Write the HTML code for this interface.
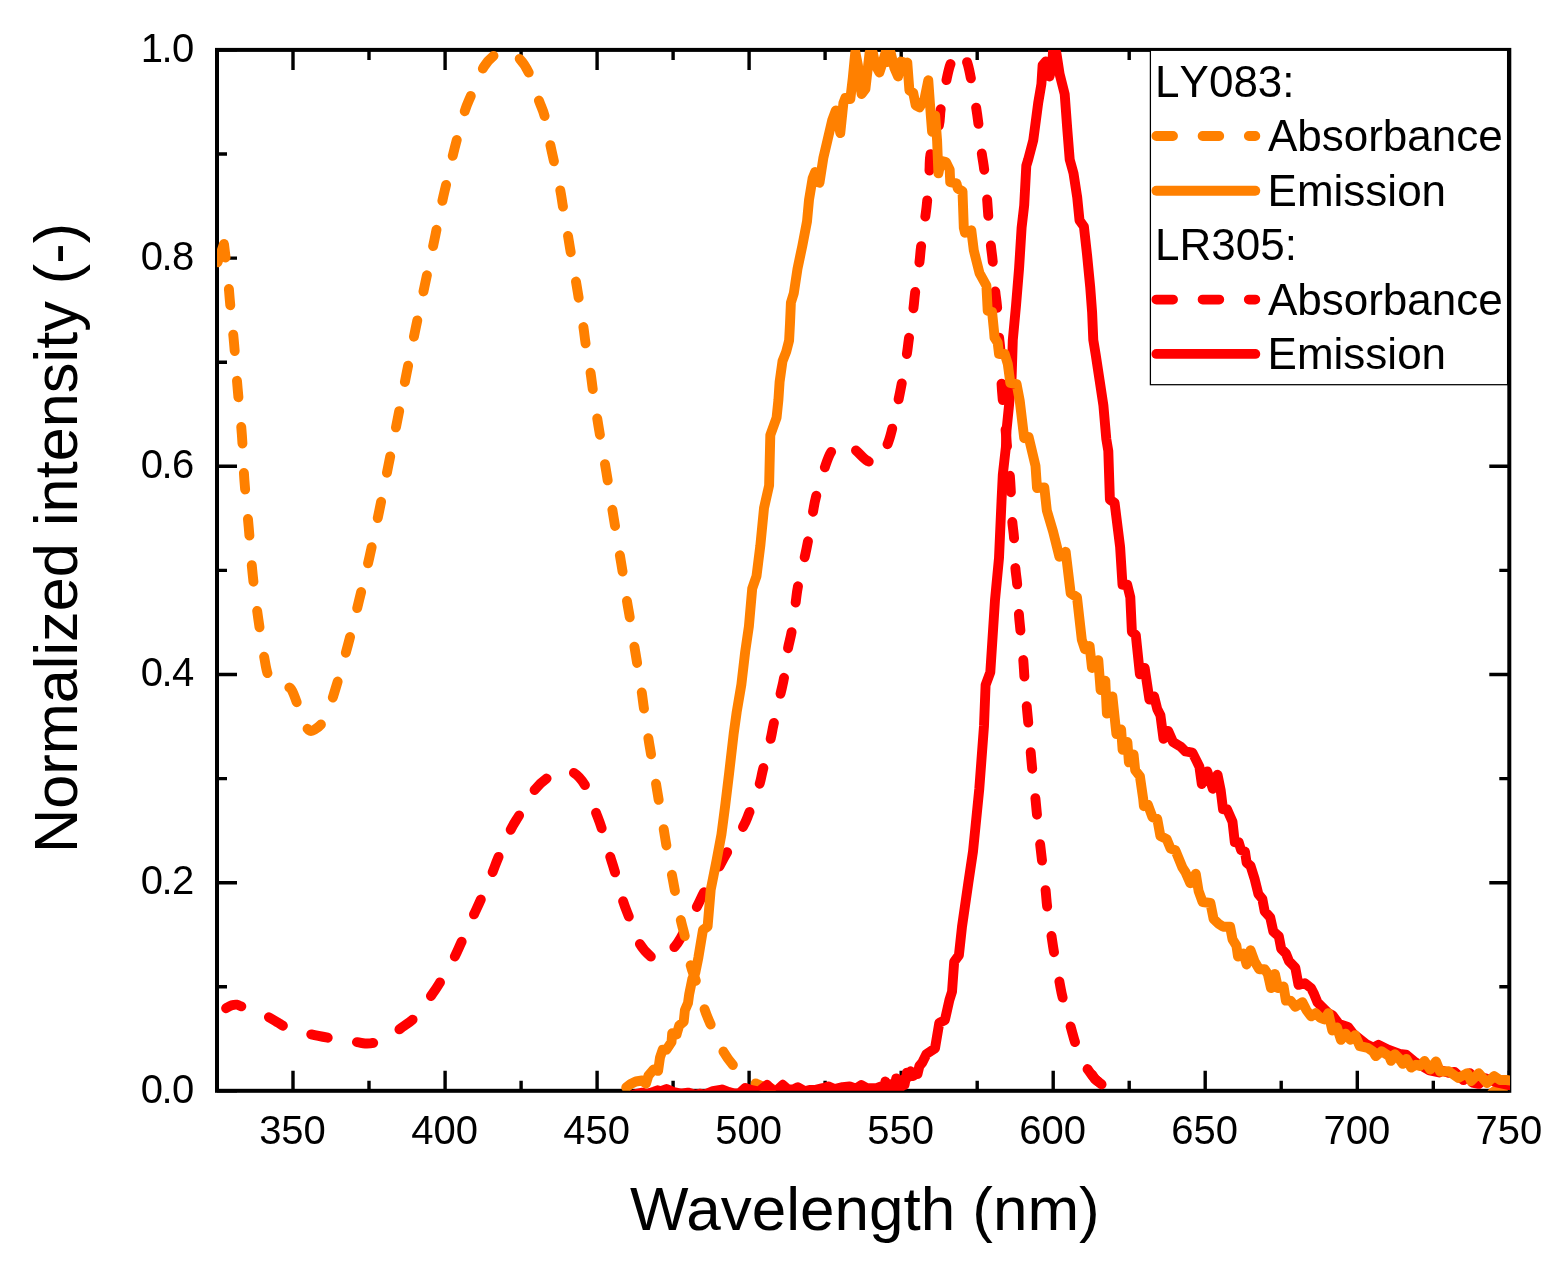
<!DOCTYPE html><html><head><meta charset="utf-8"><title>Spectra</title>
<style>html,body{margin:0;padding:0;background:#fff;}svg{display:block;}</style></head><body>
<svg width="1566" height="1272" viewBox="0 0 1566 1272">
<rect width="1566" height="1272" fill="#fff"/>
<defs><clipPath id="pa"><rect x="217" y="49.9" width="1293" height="1040.9"/></clipPath></defs>
<path d="M293,1090.8 V1070.8 M293,49.9 V69.9 M445.1,1090.8 V1070.8 M445.1,49.9 V69.9 M597.1,1090.8 V1070.8 M597.1,49.9 V69.9 M749.1,1090.8 V1070.8 M749.1,49.9 V69.9 M901.2,1090.8 V1070.8 M901.2,49.9 V69.9 M1053.2,1090.8 V1070.8 M1053.2,49.9 V69.9 M1205.2,1090.8 V1070.8 M1205.2,49.9 V69.9 M1357.3,1090.8 V1070.8 M1357.3,49.9 V69.9 M1509.3,1090.8 V1070.8 M1509.3,49.9 V69.9 M369,1090.8 V1080.8 M369,49.9 V59.9 M521.1,1090.8 V1080.8 M521.1,49.9 V59.9 M673.1,1090.8 V1080.8 M673.1,49.9 V59.9 M825.1,1090.8 V1080.8 M825.1,49.9 V59.9 M977.2,1090.8 V1080.8 M977.2,49.9 V59.9 M1129.2,1090.8 V1080.8 M1129.2,49.9 V59.9 M1281.2,1090.8 V1080.8 M1281.2,49.9 V59.9 M1433.3,1090.8 V1080.8 M1433.3,49.9 V59.9 M217,1090.8 H237 M1509.3,1090.8 H1489.3 M217,882.7 H237 M1509.3,882.7 H1489.3 M217,674.5 H237 M1509.3,674.5 H1489.3 M217,466.3 H237 M1509.3,466.3 H1489.3 M217,258.1 H237 M1509.3,258.1 H1489.3 M217,49.9 H237 M1509.3,49.9 H1489.3 M217,986.8 H227 M1509.3,986.8 H1499.3 M217,778.6 H227 M1509.3,778.6 H1499.3 M217,570.4 H227 M1509.3,570.4 H1499.3 M217,362.2 H227 M1509.3,362.2 H1499.3 M217,154 H227 M1509.3,154 H1499.3" stroke="#000" stroke-width="3.4" fill="none"/>
<rect x="217" y="49.9" width="1292.3" height="1040.9" stroke="#000" stroke-width="4.0" fill="none" stroke-linejoin="miter"/>
<g clip-path="url(#pa)" fill="none" stroke-width="9.9" stroke-linecap="round" stroke-linejoin="round">
<path d="M226.1,1008.2C227.05,1007.72 229.98,1005.88 231.8,1005.3C233.62,1004.72 235.42,1004.52 237,1004.7C238.58,1004.88 238.3,1005.35 241.3,1006.4C244.3,1007.45 250.3,1009.13 255,1011C259.7,1012.87 265.7,1015.68 269.5,1017.6C273.3,1019.52 275.27,1021 277.8,1022.5C280.33,1024 281.5,1025.18 284.7,1026.6C287.9,1028.02 292.72,1029.73 297,1031C301.28,1032.27 305.12,1033.05 310.4,1034.2C315.68,1035.35 323.27,1036.85 328.7,1037.9C334.13,1038.95 338.28,1039.8 343,1040.5C347.72,1041.2 353.33,1041.6 357,1042.1C360.67,1042.6 362.17,1043.4 365,1043.5C367.83,1043.6 370,1043.78 374,1042.7C378,1041.62 384.28,1039.6 389,1037C393.72,1034.4 397.97,1030.4 402.3,1027.1C406.63,1023.8 410.17,1022.47 415,1017.2C419.83,1011.93 427.17,1001.25 431.3,995.5C435.43,989.75 436.02,988.95 439.8,982.7C443.58,976.45 450.42,964.72 454,958C457.58,951.28 458.05,949.48 461.3,942.4C464.55,935.32 470.28,922.57 473.5,915.5C476.72,908.43 477.48,907.07 480.6,900C483.72,892.93 489.25,880.18 492.2,873.1C495.15,866.02 495.23,864.7 498.3,857.5C501.37,850.3 507.08,836.98 510.6,829.9C514.12,822.82 515.33,821.73 519.4,815C523.47,808.27 530.05,795.87 535,789.5C539.95,783.13 544.93,779.72 549.1,776.8C553.27,773.88 555.98,772.72 560,772C564.02,771.28 568.88,770.05 573.2,772.5C577.52,774.95 582.13,780.1 585.9,786.7C589.67,793.3 593.2,805.27 595.8,812.1C598.4,818.93 599.13,820.38 601.5,827.7C603.87,835.02 607.78,848.7 610,856C612.22,863.3 612.68,864.2 614.8,871.5C616.92,878.8 620.35,892.25 622.7,899.8C625.05,907.35 626.07,909.48 628.9,916.8C631.73,924.12 635.78,936.87 639.7,943.7C643.62,950.53 648.85,955.17 652.4,957.8C655.95,960.43 657.47,961.15 661,959.5C664.53,957.85 670.32,951.48 673.6,947.9C676.88,944.32 676.82,944.85 680.7,938C684.58,931.15 692.93,914.55 696.9,906.8C700.87,899.05 700.67,898.4 704.5,891.5C708.33,884.6 716.07,872.05 719.9,865.4C723.73,858.75 723.67,857.98 727.5,851.6C731.33,845.22 739.32,833.48 742.9,827.1C746.48,820.72 746.3,820.22 749,813.3C751.7,806.38 756.8,792.77 759.1,785.6C761.4,778.43 760.9,777.97 762.8,770.3C764.7,762.63 768.7,747.27 770.5,739.6C772.3,731.93 771.95,731.85 773.6,724.3C775.25,716.75 778.63,702.23 780.4,694.3C782.17,686.37 782.95,684.23 784.2,676.7C785.45,669.17 786.65,656.65 787.9,649.1C789.15,641.55 790.43,638.95 791.7,631.4C792.97,623.85 794.45,611.33 795.5,603.8C796.55,596.27 796.53,593.7 798,586.2C799.47,578.7 802.68,566.05 804.3,558.8C805.92,551.55 806.28,550.33 807.7,542.7C809.12,535.07 811.38,520.78 812.8,513C814.22,505.22 814.22,503.55 816.2,496C818.18,488.45 822.07,475.25 824.7,467.7C827.33,460.15 828.95,454.65 832,450.7C835.05,446.75 839.27,444.23 843,444C846.73,443.77 850.38,446.53 854.4,449.3C858.42,452.07 863.33,458.48 867.1,460.6C870.87,462.72 873.7,464.5 877,462C880.3,459.5 884.4,451.02 886.9,445.6C889.4,440.18 890.12,436.9 892,429.5C893.88,422.1 896.6,408.75 898.2,401.2C899.8,393.65 900.17,392 901.6,384.2C903.03,376.4 905.58,361.97 906.8,354.4C908.02,346.83 907.8,346.47 908.9,338.8C910,331.13 912.37,316.07 913.4,308.4C914.43,300.73 914.1,300.42 915.1,292.8C916.1,285.18 918.42,270.32 919.4,262.7C920.38,255.08 920.02,254.77 921,247.1C921.98,239.43 924.28,224.28 925.3,216.7C926.32,209.12 926.42,209.15 927.1,201.6C927.78,194.05 928.8,179.47 929.4,171.4C930,163.33 929.12,160.85 930.7,153.2C932.28,145.55 937.22,132.93 938.9,125.5C940.58,118.07 939.55,116.13 940.8,108.6C942.05,101.07 944.73,87.85 946.4,80.3C948.07,72.75 948.78,68.27 950.8,63.3C952.82,58.33 955.88,50.92 958.5,50.5" stroke="#ff0000" stroke-dasharray="16.6 29.63" stroke-dashoffset="0.31"/>
<path d="M958.5,50.5C961.12,50.08 964.43,56.15 966.5,60.8C968.57,65.45 969.32,70.75 970.9,78.4C972.48,86.05 974.73,99.05 976,106.7C977.27,114.35 977.57,116.75 978.5,124.3C979.43,131.85 980.65,144.45 981.6,152C982.55,159.55 983.3,161.9 984.2,169.6C985.1,177.3 986.32,190.5 987,198.2C987.68,205.9 987.67,208.03 988.3,215.8C988.93,223.57 990.07,237.25 990.8,244.8C991.53,252.35 991.97,253.45 992.7,261.1C993.43,268.75 994.47,283.05 995.2,290.7C995.93,298.35 996.47,299.45 997.1,307C997.73,314.55 998.43,328.5 999,336C999.57,343.5 1000.08,344.2 1000.5,352C1000.92,359.8 1001.12,374.73 1001.5,382.8C1001.88,390.87 1002.13,392.7 1002.8,400.4C1003.47,408.1 1004.8,421.4 1005.5,429C1006.2,436.6 1006.3,438.53 1007,446C1007.7,453.47 1009.05,466.03 1009.7,473.8C1010.35,481.57 1010.48,484.85 1010.9,492.6C1011.32,500.35 1011.67,512.63 1012.2,520.3C1012.73,527.97 1013.58,530.83 1014.1,538.6C1014.62,546.37 1014.78,559.25 1015.3,566.9C1015.82,574.55 1016.6,576.68 1017.2,584.5C1017.8,592.32 1018.37,606.17 1018.9,613.8C1019.43,621.43 1019.67,622.57 1020.4,630.3C1021.13,638.03 1022.63,652.47 1023.3,660.2C1023.97,667.93 1023.83,669.1 1024.4,676.7C1024.97,684.3 1026.05,698.07 1026.7,705.8C1027.35,713.53 1027.63,715.37 1028.3,723.1C1028.97,730.83 1030.05,744.6 1030.7,752.2C1031.35,759.8 1031.42,761.02 1032.2,768.7C1032.98,776.38 1034.6,790.62 1035.4,798.3C1036.2,805.98 1036.22,807.2 1037,814.8C1037.78,822.4 1039.25,836.17 1040.1,843.9C1040.95,851.63 1041.18,853.47 1042.1,861.2C1043.02,868.93 1044.75,882.7 1045.6,890.3C1046.45,897.9 1046.22,899.18 1047.2,906.8C1048.18,914.42 1050.35,928.35 1051.5,936C1052.65,943.65 1052.77,945.02 1054.1,952.7C1055.43,960.38 1058.05,974.52 1059.5,982.1C1060.95,989.68 1060.9,990.62 1062.8,998.2C1064.7,1005.78 1068.78,1020.03 1070.9,1027.6C1073.02,1035.17 1073.65,1038.2 1075.5,1043.6C1077.35,1049 1079.77,1055.43 1082,1060C1084.23,1064.57 1086.73,1067.83 1088.9,1071C1091.07,1074.17 1092.88,1076.77 1095,1079C1097.12,1081.23 1100.5,1083.5 1101.6,1084.4" stroke="#ff0000" stroke-dasharray="16.6 29.63" stroke-dashoffset="31.23"/>
<path d="M1092,1074.5 L1095,1079 L1101.6,1084.4" stroke="#ff0000"/>
<path d="M217.6,262.2 L224,244 L225.6,257.5" stroke="#ff8000"/>
<path d="M228.9,289C229.13,291.73 229.45,296.45 230.3,305.4C231.15,314.35 232.78,328.9 234,342.7C235.22,356.5 236.28,372.78 237.6,388.2C238.92,403.62 240.77,419.83 241.9,435.2C243.03,450.57 243.27,465.08 244.4,480.4C245.53,495.72 247.33,511.53 248.7,527.1C250.07,542.67 251,558.48 252.6,573.8C254.2,589.12 256.12,603.68 258.3,619C260.48,634.32 263.92,656.2 265.7,665.7C267.48,675.2 267.78,672.95 269,676C270.22,679.05 271,682.08 273,684C275,685.92 278.08,686.78 281,687.5C283.92,688.22 287.87,685.8 290.5,688.3C293.13,690.8 294.88,697.88 296.8,702.5C298.72,707.12 300.38,711.92 302,716" stroke="#ff8000" stroke-dasharray="16.6 29.63" stroke-dashoffset="0.3"/>
<path d="M302,716C303.62,720.08 305.17,724.53 306.5,727C307.83,729.47 308.65,730.37 310,730.8C311.35,731.23 312.57,730.92 314.6,729.6C316.63,728.28 319.8,726.5 322.2,722.9C324.6,719.3 326.83,713.52 329,708C331.17,702.48 332.08,700.15 335.2,689.8C338.32,679.45 343.73,660.75 347.7,645.9C351.67,631.05 355.37,615.55 359,600.7C362.63,585.85 366.15,571.67 369.5,556.8C372.85,541.93 375.95,526.73 379.1,511.5C382.25,496.27 385.33,480.72 388.4,465.4C391.47,450.08 394.48,434.87 397.5,419.6C400.52,404.33 403.48,388.98 406.5,373.8C409.52,358.62 412.48,343.58 415.6,328.5C418.72,313.42 422,298.38 425.2,283.3C428.4,268.22 431.95,251.68 434.8,238C437.65,224.32 440.4,210.15 442.3,201.2C444.2,192.25 444.47,191.83 446.2,184.3C447.93,176.77 450.9,163.55 452.7,156C454.5,148.45 454.97,146.55 457,139C459.03,131.45 462.55,118 464.9,110.7C467.25,103.4 467.95,102.5 471.1,95.2C474.25,87.9 479.55,73.83 483.8,66.9C488.05,59.97 492.73,56.25 496.6,53.6C500.47,50.95 503.23,50.2 507,51" stroke="#ff8000" stroke-dasharray="16.6 29.63" stroke-dashoffset="32.49"/>
<path d="M507,51C510.77,51.8 515.52,54.67 519.2,58.4C522.88,62.13 525.8,66.33 529.1,73.4C532.4,80.47 536.4,93.63 539,100.8C541.6,107.97 542.82,109.08 544.7,116.4C546.58,123.72 548.75,137.17 550.3,144.7C551.85,152.23 552.35,154.07 554,161.6C555.65,169.13 558.7,182.35 560.2,189.9C561.7,197.45 561.72,199.35 563,206.9C564.28,214.45 566.62,227.65 567.9,235.2C569.18,242.75 569.38,244.65 570.7,252.2C572.02,259.75 574.48,272.97 575.8,280.5C577.12,288.03 577.33,289.63 578.6,297.4C579.87,305.17 582.22,319.32 583.4,327.1C584.58,334.88 584.52,336.55 585.7,344.1C586.88,351.65 589.32,364.85 590.5,372.4C591.68,379.95 591.68,381.77 592.8,389.4C593.92,397.03 596,410.57 597.2,418.2C598.4,425.83 598.72,427.65 600,435.2C601.28,442.75 603.62,455.97 604.9,463.5C606.18,471.03 606.48,472.87 607.7,480.4C608.92,487.93 610.98,501.15 612.2,508.7C613.42,516.25 613.72,517.92 615,525.7C616.28,533.48 618.62,547.62 619.9,555.4C621.18,563.18 621.53,564.87 622.7,572.4C623.87,579.93 625.72,593.07 626.9,600.6C628.08,608.13 628.57,610.05 629.8,617.6C631.03,625.15 633.08,638.35 634.3,645.9C635.52,653.45 635.88,655.35 637.1,662.9C638.32,670.45 640.47,683.67 641.6,691.2C642.73,698.73 642.82,700.57 643.9,708.1C644.98,715.63 646.92,728.73 648.1,736.4C649.28,744.07 649.72,746.43 651,754.1C652.28,761.77 654.53,774.85 655.8,782.4C657.07,789.95 657.28,791.62 658.6,799.4C659.92,807.18 662.38,821.32 663.7,829.1C665.02,836.88 665.18,838.78 666.5,846.1C667.82,853.42 670.18,865.47 671.6,873C673.02,880.53 673.48,883.53 675,891.3C676.52,899.07 679.05,912.05 680.7,919.6C682.35,927.15 683.25,929.05 684.9,936.6C686.55,944.15 688.72,957.35 690.6,964.9C692.48,972.45 693.85,974.45 696.2,981.9C698.55,989.35 702.22,1002.33 704.7,1009.6C707.18,1016.87 707.9,1018.37 711.1,1025.5C714.3,1032.63 719.97,1045.48 723.9,1052.4C727.83,1059.32 731.02,1062.73 734.7,1067C738.38,1071.27 742.28,1075.17 746,1078C749.72,1080.83 753,1082.33 757,1084C761,1085.67 762.83,1086.83 770,1088C777.17,1089.17 795,1090.5 800,1091" stroke="#ff8000" stroke-dasharray="16.6 29.63" stroke-dashoffset="31.18"/>
<path d="M1492,1093 L1497,1089.3 L1503,1089.3" stroke="#ff8000"/>
<path d="M631.6,1095.2 L637.9,1093.5 L642.3,1092.6 L646.8,1093.9 L654,1091.6 L657.5,1090.3 L661.1,1091.2 L666.5,1089 L673.6,1092.1 L680.8,1093.6 L687.9,1092.6 L695.1,1094.8 L700.4,1093.6 L704,1094.8 L712.9,1091.2 L721.9,1089.5 L729,1092.1 L734.6,1093.5 L739.6,1093.2 L745.3,1087.9 L750.7,1089.8 L758.7,1091.6 L767.2,1084.9 L772.9,1090.8 L776.4,1090.8 L782.8,1084.8 L788,1089.5 L793.4,1089.5 L797.9,1087.2 L805,1091.3 L809.5,1089.9 L815.7,1089.9 L822.9,1088.1 L828.3,1086.4 L834.5,1089 L842.6,1087.2 L849.7,1086.4 L856,1088.6 L861.3,1085 L866.7,1088.1 L876.5,1088.1 L881,1086.5 L883.2,1092 L885.4,1081.5 L888,1091 L890.8,1084.2 L893.5,1092 L896.2,1078.4 L899,1091.5 L902.4,1079.8 L904.5,1085 L906.9,1072.6 L908.7,1077 L910.5,1071.3 L913,1076 L915.8,1072.6 L917.5,1074 L919.4,1066 L922.3,1062.5 L926.5,1054 L935,1048.3 L939.3,1022.9 L944.9,1020 L949.4,1000 L952,991.8 L954.2,961.6 L958.9,955.3 L962,926.7 L968.3,883 L973,851.6 L979.3,788.7 L984,725.8 L985.6,684.9 L990.3,672.3 L995,600 L999,558 L1001.5,501.4 L1002.8,474.7 L1005.9,447 L1006.5,430.6 L1009,405.5 L1011.6,377.8 L1012.8,340 L1016,305.8 L1019.1,268 L1021.6,227.8 L1024.2,205.2 L1026.3,165.8 L1028.2,159.5 L1033.2,140.6 L1035.7,121.8 L1038.2,102.9 L1041.4,84 L1042.6,65.2 L1045.8,61.4 L1049.6,76.5 L1052.7,58.9 L1053.3,42 L1056.5,53.8 L1059.6,74 L1064.7,94.1 L1067.2,128.1 L1069.7,159.5 L1073.5,173.3 L1077.2,197.2 L1079.5,220.3 L1083.9,226.5 L1087,254.2 L1090.2,286.9 L1092.1,312.1 L1093.3,340 L1095.8,355.2 L1099.6,380.3 L1103.4,405.5 L1106.3,439 L1108.3,451 L1109.9,499.7 L1114.6,502.9 L1120.1,546.9 L1122.5,584.7 L1127.2,584.7 L1130.3,597.2 L1131.9,631.8 L1135.8,635 L1139.9,674.3 L1144.7,668 L1149.4,699.5 L1154.1,696.4 L1157.2,708.9 L1160.4,715.2 L1163.5,738.8 L1168.2,730.9 L1173,742 L1180.8,746.7 L1185.5,751.4 L1192.4,752.6 L1196.3,760.4 L1199.4,766.7 L1201.8,784 L1207.3,771.4 L1212.8,788.7 L1217.5,774.6 L1220.7,790.3 L1223,809.2 L1227,809.2 L1232.5,821.8 L1234.8,842.2 L1238.7,842.2 L1241.1,850.1 L1245,851.6 L1246.6,862.6 L1250.5,865.8 L1254.5,878.4 L1258.4,894.1 L1262.3,898.8 L1264.7,911.4 L1270.2,917.3 L1273.3,931.4 L1278.8,936.2 L1281.2,948.7 L1285.9,953.5 L1289.1,961.3 L1295.3,967.6 L1298.5,984.9 L1304.8,983.3 L1311.1,988.1 L1314.2,994.3 L1317.4,1002.2 L1322.1,1006.9 L1328.4,1013.2 L1332.6,1015.4 L1338.9,1024 L1347.9,1026.9 L1353,1033.5 L1365.8,1043.9 L1373.4,1047.6 L1378.5,1044.8 L1387.5,1049.5 L1399.6,1054 L1406,1054.6 L1415,1062 L1429.6,1070.5 L1439.2,1072.5 L1442.3,1070.7 L1448.7,1072.8 L1454.5,1071.9 L1463.4,1080 L1469.8,1073.2 L1472.4,1082.6 L1478.7,1083.9 L1485.1,1078.3 L1496.6,1082.3 L1509.4,1085.2 L1514,1086" stroke="#ff0000"/>
<path d="M626.2,1087.5 L630.7,1084 L635.8,1081.5 L642.1,1080.5 L646,1083.5 L648.5,1075.4 L653.6,1069.6 L658.1,1070.9 L660,1057.5 L662.6,1049.8 L666.4,1049.8 L671.5,1042.1 L672.2,1033.2 L676.6,1034.5 L679.2,1025.5 L683.7,1021.7 L684.9,1010.2 L688,1003 L689.2,994.2 L692.3,978.9 L695.3,972.8 L698.4,957.4 L703,929.8 L707.6,926.7 L710.7,889.9 L716.8,859.3 L721.4,834.7 L725.4,804 L729.1,773.4 L733.7,733.5 L736.7,712 L741.4,684.3 L745.2,651.6 L748.9,626.4 L752.2,588.7 L756.5,576.1 L760.3,545.9 L764,508.2 L769.1,485.5 L770.3,435.2 L776.6,417.6 L778.4,400 L779.6,381.9 L782.5,361.1 L786.2,351.7 L789.1,340.4 L790,323.4 L790.9,302.6 L793.8,293.2 L797.5,268.7 L802.3,246 L807,221.5 L809,200 L812.6,178.4 L815.1,172 L819.5,182.8 L823.3,158.2 L827.7,139.4 L832.1,120.5 L835.8,110.4 L840.3,133.1 L843.4,102.9 L845.3,97.9 L850.3,99.1 L852.8,77.7 L855.3,52 L857.9,65.2 L861.6,94.1 L865.4,89.1 L869.6,52.5 L872.9,53 L875.5,65.2 L879.4,72.5 L883,61.4 L885.7,52 L887.8,62 L890.6,52.5 L894.3,67.7 L898.1,76.5 L900.8,61.5 L903.2,62 L905,63.5 L907.3,62.5 L909.4,90.3 L913.2,92.8 L915.7,105.4 L919.5,107.3 L924.5,99.1 L928.3,80.3 L930.8,115.5 L932.1,131.8 L935.2,115.5 L937.1,140.6 L938.4,173.3 L940.9,160.8 L945.9,162 L949.7,169.6 L950.2,182.1 L956.5,183.4 L957.7,188.4 L962.5,191.3 L963.8,227.8 L965,232.8 L971.3,230.3 L973.8,250.4 L979.5,273.1 L986.4,285.7 L987.7,310.8 L992.1,312.1 L994,331 L994.5,337.5 L997.7,342.6 L999,353.9 L1004.7,353.9 L1007.8,364 L1010.3,382.8 L1016.6,384.1 L1019.7,400.4 L1024.2,438.2 L1028.6,436.9 L1035.5,465.8 L1037,488 L1044.3,487.4 L1046.8,510.3 L1053.1,531.6 L1059.4,556.8 L1065.7,551.8 L1070.7,593.3 L1077,597.3 L1081.8,639.7 L1084.9,649.2 L1089.6,646 L1092,668 L1098.3,660.2 L1100.6,690.1 L1105.3,680.6 L1106.9,713.6 L1112.4,696.4 L1116.4,734.1 L1121.1,729.4 L1122.6,749.8 L1127.4,742 L1128.9,762.4 L1133.6,754.5 L1135.2,770.3 L1139.9,776.3 L1143.1,798.3 L1143.9,806.2 L1147.8,804.6 L1152.5,817.2 L1157.2,818.7 L1160.4,836 L1166.7,839.2 L1170.6,848.6 L1175.3,850.2 L1182.4,867.5 L1185.5,872.2 L1190.3,883.2 L1195.8,873.8 L1198.6,891 L1202.6,902 L1210.4,903 L1213.6,918.9 L1218.3,923.6 L1223,926.7 L1230.1,926.7 L1232.5,939.3 L1236.4,945.6 L1238,956.6 L1243.5,953.5 L1246.6,964.5 L1250.5,950.3 L1254.5,961.3 L1259.2,969.2 L1264.7,969.2 L1267.8,973.9 L1271,988.1 L1274.9,973.9 L1278,988.1 L1283.6,986.5 L1285.9,1000.6 L1290.6,1000.6 L1295.3,1006.9 L1302.4,1002.2 L1306.4,1010.1 L1311.1,1016.4 L1315.8,1013.2 L1320.5,1017.9 L1324.4,1019.5 L1328.4,1013.2 L1332.3,1030.5 L1337,1027.4 L1340.9,1039.9 L1345.7,1033.6 L1350.4,1039.9 L1355.1,1035.2 L1359.8,1046.2 L1367.7,1047.8 L1372.9,1051.3 L1375.7,1056.1 L1381.5,1051.3 L1389.2,1056.1 L1391.1,1060.9 L1394.9,1054.2 L1398.7,1058 L1402.6,1063.8 L1406.4,1059 L1411.2,1067.6 L1416,1064.7 L1420,1066 L1424.5,1061 L1430.2,1069.5 L1436,1061.4 L1440,1071.5 L1448.7,1071.3 L1458.3,1078 L1467.3,1073.2 L1471.1,1081 L1478.7,1073.2 L1487,1083 L1494.1,1076 L1500,1080 L1506.2,1080 L1514,1081" stroke="#ff8000"/>
</g>
<rect x="1150.4" y="50.3" width="357.2" height="334.4" fill="#fff" stroke="#000" stroke-width="1.25"/>
<g font-family="Liberation Sans, Arial, sans-serif" font-size="44" fill="#000" style="font-kerning:none">
<text x="1155.1" y="96.9">LY083:</text>
<text x="1267.9" y="151.3">Absorbance</text>
<text x="1267.6" y="205.7">Emission</text>
<text x="1155.1" y="260.1">LR305:</text>
<text x="1267.9" y="314.5">Absorbance</text>
<text x="1267.6" y="368.9">Emission</text>
</g>
<g fill="none" stroke-width="9.9" stroke-linecap="round">
<path d="M1156.4,136 H1255.3" stroke="#ff8000" stroke-dasharray="16.6 29.63"/>
<path d="M1156.4,190.7 H1255.3" stroke="#ff8000"/>
<path d="M1156.4,299.6 H1255.3" stroke="#ff0000" stroke-dasharray="16.6 29.63"/>
<path d="M1156.4,353.9 H1255.3" stroke="#ff0000"/>
</g>
<g font-family="Liberation Sans, Arial, sans-serif" font-size="40" fill="#000" text-anchor="middle">
<text x="292.5" y="1144">350</text>
<text x="444.6" y="1144">400</text>
<text x="596.6" y="1144">450</text>
<text x="748.6" y="1144">500</text>
<text x="900.7" y="1144">550</text>
<text x="1052.7" y="1144">600</text>
<text x="1204.7" y="1144">650</text>
<text x="1356.8" y="1144">700</text>
<text x="1508.8" y="1144">750</text>
</g>
<g font-family="Liberation Sans, Arial, sans-serif" font-size="40" fill="#000">
<text x="140.8 161.5 172" y="1102.5">0.0</text>
<text x="140.8 161.5 172" y="894.4">0.2</text>
<text x="140.8 161.5 172" y="686.2">0.4</text>
<text x="140.8 161.5 172" y="478">0.6</text>
<text x="140.8 161.5 172" y="269.8">0.8</text>
<text x="140.8 161.5 172" y="61.6">1.0</text>
</g>
<text font-family="Liberation Sans, Arial, sans-serif" font-size="62" x="864.9" y="1229.9" text-anchor="middle">Wavelength (nm)</text>
<text font-family="Liberation Sans, Arial, sans-serif" font-size="62" transform="translate(77.4,538) rotate(-90) scale(0.989,1)" text-anchor="middle">Normalized intensity (-)</text>
</svg></body></html>
